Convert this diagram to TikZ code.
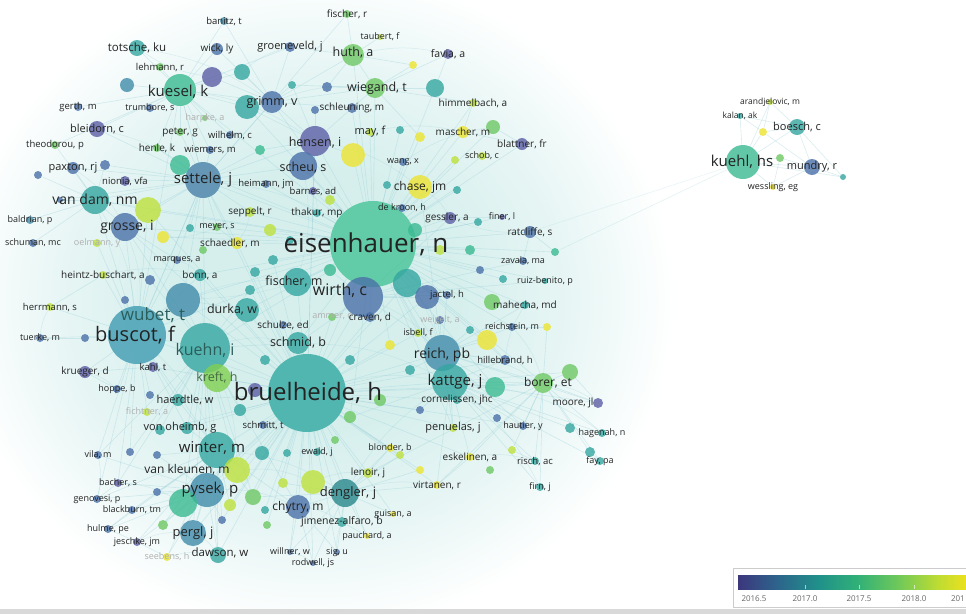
\documentclass[tikz,border=0pt]{standalone}
\usepackage{fontspec}
\setmainfont{Open Sans}
\usetikzlibrary{backgrounds}
\definecolor{cP}{RGB}{92,94,165}
\definecolor{cB}{RGB}{74,112,168}
\definecolor{cB2}{RGB}{72,128,168}
\definecolor{cBT}{RGB}{64,140,170}
\definecolor{cBTb}{RGB}{62,155,178}
\definecolor{cT}{RGB}{52,166,160}
\definecolor{cTb}{RGB}{48,168,160}
\definecolor{cT2}{RGB}{40,135,140}
\definecolor{cTG}{RGB}{58,186,145}
\definecolor{cTGb}{RGB}{70,194,150}
\definecolor{cG}{RGB}{110,200,100}
\definecolor{cGb}{RGB}{128,208,80}
\definecolor{cYG}{RGB}{190,225,60}
\definecolor{cY}{RGB}{236,228,48}
\definecolor{edgec}{RGB}{150,205,215}
\definecolor{hazec}{RGB}{214,239,237}
\definecolor{hazem}{RGB}{232,246,245}
\definecolor{txt}{RGB}{35,35,35}
\definecolor{faint}{RGB}{175,175,175}
\definecolor{v0}{RGB}{60,55,125}
\definecolor{v1}{RGB}{45,100,140}
\definecolor{v2}{RGB}{32,143,138}
\definecolor{v3}{RGB}{48,176,120}
\definecolor{v4}{RGB}{110,200,90}
\definecolor{v5}{RGB}{190,220,50}
\definecolor{v6}{RGB}{235,225,30}
\pgfdeclarehorizontalshading{viridisbar}{100bp}{color(0bp)=(v0); color(25bp)=(v0); color(33.6bp)=(v1); color(42.3bp)=(v2); color(51.1bp)=(v3); color(60bp)=(v4); color(68.9bp)=(v5); color(75bp)=(v6); color(100bp)=(v6)}
\pgfdeclareradialshading{hazeshade}{\pgfpoint{0bp}{0bp}}{color(0bp)=(hazec); color(10bp)=(hazec); color(18bp)=(hazem); color(25bp)=(white); color(50bp)=(white)}
\tikzset{
  vn/.style={circle,inner sep=0pt,draw=none,fill opacity=0.8},
  lab/.style={text=txt,inner sep=0pt},
  fnt/.style={font=\fontsize{#1}{#1}\selectfont},
  dim/.style={text=faint},
  edg/.style={draw=edgec,line width=0.6pt,opacity=0.35},
  edgb/.style={draw=edgec,line width=0.5pt,opacity=0.3,bend left=12},
  legtxt/.style={text=black!60,inner sep=0pt,font=\fontsize{8}{8}\selectfont}
}
\newcommand\mkN[5]{\node[vn,fill=#5,minimum size=#4pt] (#1) at (#2,#3) {};}
\newcommand\mkL[4][]{\node[lab,fnt=#3,#1] (#2L) at (#2) {#4};}
\begin{document}
\begin{tikzpicture}[x=1pt,y=-1pt]
\useasboundingbox (0,0) rectangle (966,614);
% ---------- nodes ----------
\mkN{eis}{373}{244}{86}{cTGb}
\mkN{bru}{307}{393}{78}{cTb}
\mkN{bus}{137}{335}{58}{cBTb}
\mkN{wub}{183}{300}{34}{cBT}
\mkN{kun}{205}{348}{50}{cT}
\mkN{wir}{363}{297}{40}{cB}
\mkN{set}{203}{180}{36}{cB2}
\mkN{kue}{180}{90}{32}{cTG}
\mkN{kuh}{743}{162}{34}{cTG}
\mkN{vdam}{95}{200}{28}{cT}
\mkN{gro}{125}{227}{28}{cB}
\mkN{reich}{442}{353}{36}{cBT}
\mkN{katt}{450}{382}{36}{cT}
\mkN{win}{217}{450}{36}{cT}
\mkN{pys}{207}{490}{34}{cBT}
\mkN{pys2}{183}{503}{28}{cTG}
\mkN{per}{193}{533}{26}{cBT}
\mkN{den}{345}{493}{28}{cT2}
\mkN{hen}{315}{141}{30}{cP}
\mkN{scheu}{303}{166}{28}{cB}
\mkN{grimm}{272}{102}{22}{cB}
\mkN{huth}{353}{55}{22}{cG}
\mkN{wieg}{375}{88}{20}{cG}
\mkN{chase}{420}{187}{24}{cY}
\mkN{mayn}{353}{155}{24}{cY}
\mkN{may}{370}{132}{8}{cYG}
\mkN{mash}{463}{132}{12}{cY}
\mkN{him}{473}{103}{8}{cYG}
\mkN{tot}{137}{48}{16}{cT}
\mkN{wick}{217}{49}{12}{cB}
\mkN{ban}{224}{21}{8}{cBT}
\mkN{groe}{290}{47}{10}{cB}
\mkN{fisr}{347}{14}{8}{cG}
\mkN{taub}{380}{37}{6}{cYG}
\mkN{fav}{448}{54}{10}{cP}
\mkN{leh}{160}{67}{8}{cG}
\mkN{n213}{212}{77}{20}{cP}
\mkN{n242}{242}{72}{16}{cT}
\mkN{n127}{127}{85}{14}{cBT}
\mkN{gerth}{78}{107}{8}{cB}
\mkN{trum}{150}{108}{8}{cB}
\mkN{harp}{205}{118}{6}{cG}
\mkN{blei}{97}{129}{16}{cP}
\mkN{peter}{180}{132}{8}{cG}
\mkN{wilh}{230}{135}{8}{cB}
\mkN{theo}{55}{145}{8}{cG}
\mkN{henle}{157}{148}{8}{cG}
\mkN{wiem}{210}{150}{8}{cB}
\mkN{n247}{247}{107}{24}{cT}
\mkN{schl}{352}{108}{10}{cB}
\mkN{n315}{315}{110}{8}{cB}
\mkN{n435}{435}{88}{18}{cT}
\mkN{n292}{292}{85}{8}{cT}
\mkN{n327}{327}{87}{10}{cB}
\mkN{schleg}{413}{65}{8}{cY}
\mkN{blat}{522}{144}{12}{cP}
\mkN{schob}{482}{156}{8}{cYG}
\mkN{n493}{493}{127}{14}{cG}
\mkN{wang}{403}{162}{8}{cB}
\mkN{n420}{420}{137}{10}{cY}
\mkN{pax}{73}{168}{12}{cB}
\mkN{nion}{125}{181}{10}{cP}
\mkN{n180}{180}{165}{20}{cTG}
\mkN{n105}{105}{165}{10}{cB}
\mkN{n38}{38}{175}{8}{cB}
\mkN{hei}{266}{184}{8}{cB}
\mkN{barn}{313}{191}{8}{cP}
\mkN{n387}{387}{185}{8}{cT}
\mkN{n457}{457}{190}{8}{cT}
\mkN{n148}{148}{210}{26}{cYG}
\mkN{sepp}{250}{212}{10}{cYG}
\mkN{thak}{317}{213}{8}{cT}
\mkN{dekr}{402}{208}{8}{cB}
\mkN{bald}{30}{220}{8}{cBT}
\mkN{gess}{450}{218}{12}{cP}
\mkN{finer}{502}{217}{6}{cP}
\mkN{ratc}{530}{232}{12}{cB}
\mkN{n478}{478}{222}{8}{cT}
\mkN{meyer}{217}{227}{8}{cG}
\mkN{schu}{33}{243}{8}{cB}
\mkN{oelm}{97}{243}{8}{cYG}
\mkN{n163}{163}{237}{12}{cY}
\mkN{n190}{190}{228}{8}{cT}
\mkN{schae}{237}{243}{12}{cY}
\mkN{n203}{203}{250}{8}{cG}
\mkN{marq}{177}{260}{8}{cB}
\mkN{heintz}{103}{275}{8}{cYG}
\mkN{bonn}{200}{275}{12}{cT}
\mkN{zav}{523}{261}{8}{cB}
\mkN{ruiz}{545}{281}{6}{cT}
\mkN{n503}{503}{279}{8}{cT}
\mkN{n555}{555}{252}{8}{cTG}
\mkN{jact}{447}{295}{8}{cB}
\mkN{n407}{407}{283}{28}{cT}
\mkN{n427}{427}{297}{24}{cB}
\mkN{fism}{297}{282}{28}{cT}
\mkN{n273}{273}{260}{10}{cT}
\mkN{n255}{255}{272}{10}{cT}
\mkN{mah}{525}{305}{8}{cT}
\mkN{n492}{492}{302}{16}{cG}
\mkN{herr}{50}{307}{8}{cYG}
\mkN{durka}{247}{310}{24}{cT}
\mkN{schul}{283}{325}{8}{cB}
\mkN{ammer}{332}{317}{8}{cG}
\mkN{craven}{370}{317}{10}{cB}
\mkN{weig}{440}{320}{8}{cB}
\mkN{isb}{418}{333}{8}{cYG}
\mkN{rstein}{512}{327}{8}{cB}
\mkN{n547}{547}{327}{8}{cY}
\mkN{n487}{487}{340}{20}{cY}
\mkN{tuer}{40}{338}{8}{cB}
\mkN{n85}{85}{338}{8}{cB}
\mkN{schm}{298}{343}{22}{cT}
\mkN{hill}{505}{360}{10}{cB}
\mkN{kahl}{153}{367}{10}{cP}
\mkN{krue}{85}{372}{12}{cP}
\mkN{kreft}{217}{378}{28}{cGb}
\mkN{n570}{570}{372}{16}{cG}
\mkN{bor}{543}{383}{20}{cG}
\mkN{n495}{495}{387}{20}{cTG}
\mkN{hoppe}{117}{389}{8}{cB}
\mkN{haer}{178}{400}{12}{cT}
\mkN{corn}{457}{400}{8}{cT}
\mkN{moore}{598}{403}{10}{cP}
\mkN{fich}{147}{412}{8}{cYG}
\mkN{n350}{350}{417}{12}{cG}
\mkN{schmitt}{263}{425}{8}{cB}
\mkN{pen}{453}{428}{8}{cYG}
\mkN{haut}{523}{426}{8}{cB}
\mkN{n497}{497}{418}{8}{cB}
\mkN{hag}{602}{433}{8}{cT}
\mkN{n570b}{570}{428}{10}{cT}
\mkN{vonoh}{187}{428}{12}{cT}
\mkN{ewald}{317}{452}{8}{cT}
\mkN{n287}{287}{453}{8}{cT}
\mkN{n262}{262}{453}{14}{cT}
\mkN{blond}{390}{448}{8}{cY}
\mkN{vila}{98}{455}{8}{cB}
\mkN{n130}{130}{452}{8}{cB}
\mkN{cerv}{157}{455}{8}{cB}
\mkN{esk}{470}{457}{8}{cY}
\mkN{risch}{535}{461}{8}{cT}
\mkN{n512}{512}{450}{8}{cYG}
\mkN{fay}{600}{461}{8}{cT}
\mkN{n590}{590}{452}{10}{cT}
\mkN{vkl}{237}{470}{26}{cYG}
\mkN{len}{368}{473}{10}{cYG}
\mkN{vir}{437}{485}{8}{cY}
\mkN{firn}{540}{487}{8}{cT}
\mkN{n313}{313}{482}{24}{cYG}
\mkN{n283}{283}{483}{10}{cYG}
\mkN{n253}{253}{497}{16}{cG}
\mkN{bach}{118}{483}{8}{cP}
\mkN{n157}{157}{492}{8}{cB}
\mkN{gen}{97}{499}{8}{cB}
\mkN{black}{132}{510}{8}{cB}
\mkN{guis}{393}{514}{6}{cY}
\mkN{chy}{298}{507}{24}{cB}
\mkN{jim}{342}{522}{10}{cT}
\mkN{n222}{222}{520}{8}{cB}
\mkN{n163b}{163}{525}{10}{cG}
\mkN{hulme}{108}{529}{8}{cB}
\mkN{pauch}{367}{536}{6}{cY}
\mkN{jesch}{137}{542}{8}{cP}
\mkN{daw}{218}{555}{16}{cT}
\mkN{seeb}{167}{557}{8}{cY}
\mkN{will}{290}{552}{6}{cB}
\mkN{sig}{337}{552}{6}{cB}
\mkN{rod}{313}{563}{6}{cB}
\mkN{n267}{267}{525}{8}{cG}
% extra unlabeled texture nodes
\mkN{x1}{330}{200}{10}{cYG}
\mkN{x2}{260}{150}{10}{cTG}
\mkN{x3}{400}{130}{8}{cT}
\mkN{x4}{470}{250}{10}{cTG}
\mkN{x5}{480}{270}{8}{cB}
\mkN{x6}{390}{345}{10}{cY}
\mkN{x7}{410}{370}{10}{cT}
\mkN{x8}{380}{400}{12}{cG}
\mkN{x9}{420}{410}{8}{cB}
\mkN{x10}{350}{360}{10}{cT}
\mkN{x11}{255}{390}{14}{cP}
\mkN{x12}{265}{360}{10}{cT}
\mkN{x13}{160}{430}{10}{cT}
\mkN{x14}{240}{410}{12}{cT}
\mkN{x15}{400}{455}{8}{cYG}
\mkN{x16}{420}{470}{8}{cY}
\mkN{x17}{490}{470}{8}{cG}
\mkN{x18}{335}{440}{8}{cG}
\mkN{x19}{270}{230}{12}{cYG}
\mkN{x20}{290}{240}{8}{cT}
\mkN{x21}{250}{290}{10}{cT}
\mkN{x22}{150}{280}{10}{cB}
\mkN{x23}{125}{300}{8}{cB}
\mkN{x24}{60}{200}{6}{cB}
\mkN{x25}{455}{160}{8}{cYG}
\mkN{x26}{440}{250}{10}{cYG}
\mkN{x27}{470}{330}{8}{cT}
\mkN{x28}{230}{505}{12}{cYG}
\mkN{x29}{265}{510}{8}{cT}
\mkN{x30}{415}{230}{14}{cTG}
\mkN{x31}{330}{270}{12}{cTG}
\mkN{x32}{150}{395}{8}{cB}
% right cluster
\mkN{arand}{770}{102}{6}{cYG}
\mkN{kalan}{740}{116}{6}{cT}
\mkN{boesch}{797}{127}{16}{cT}
\mkN{n763}{763}{132}{8}{cY}
\mkN{n780}{780}{158}{8}{cG}
\mkN{mundry}{812}{167}{16}{cB}
\mkN{n843}{843}{177}{6}{cT}
\mkN{wess}{773}{187}{6}{cY}
% ---------- edges ----------
\begin{scope}[on background layer]
\fill[white] (0,0) rectangle (966,614);
\shade[shading=hazeshade] (315,300) ellipse [x radius=360,y radius=330];
\foreach \a in {bru,wir,fism,n407,n427,craven,isb,jact,gess,dekr,chase,n387,thak,barn,scheu,hen,mayn,may,wang,schl,wieg,huth,n435,n457,n478,finer,ratc,zav,ruiz,mah,reich,katt,schm,durka,set,kun,wub,bus,gro,n148,sepp,schae,meyer,n163,n273,n255,hei,bonn,n487,rstein,hill,corn,pen,n350,bor,n495,blat,mash,n493,schob,him,grimm,n247,kue,vdam,n180,n555,n420,x1,x3,x4,x5,x6,x25,x26,x30,x31,x19,x20,n503,n492}
  \draw[edg] (eis) -- (\a);
\foreach \a in {wir,schm,fism,durka,kun,bus,wub,win,vonoh,haer,kreft,pys,pys2,per,vkl,den,chy,jim,n313,n283,n253,ewald,n287,n262,blond,len,schmitt,n350,corn,pen,reich,katt,craven,n407,n427,schul,kahl,n222,daw,n163b,vir,esk,guis,pauch,will,rod,sig,n495,haut,bor,hill,set,gro,n148,schae,bonn,n273,n255,isb,hen,x6,x7,x8,x9,x10,x11,x12,x13,x14,x15,x16,x18,x21,x28,x29,n267,ammer}
  \draw[edg] (bru) -- (\a);
\foreach \a in {wub,kun,tuer,n85,krue,kahl,herr,heintz,hoppe,vila,haer,vonoh,win,gro,vdam,set,n148,bonn,marq,n130,fich,bach,gen,x22,x23,x32,oelm}
  \draw[edg] (bus) -- (\a);
\foreach \a in {wub,win,kreft,haer,vonoh,pys,pys2,vkl,n253,set,gro,durka,schm,bonn,per,daw,chy,n130,vila,bach,x13,x14,x21,x22}
  \draw[edg] (kun) -- (\a);
\foreach \a in {pys,pys2,per,vkl,n253,daw,vonoh,haer,n157,gen,black,hulme,jesch,n222,n163b,seeb,chy,cerv,x28}
  \draw[edg] (win) -- (\a);
\foreach \a in {pys2,per,vkl,daw,bach,gen,black,hulme,jesch,vila,n157,seeb,n222,cerv}
  \draw[edg] (pys) -- (\a);
\foreach \a in {chy,jim,will,rod,sig,len,n313,guis,pauch,n253,n283,blond,x15,x16,vir}
  \draw[edg] (den) -- (\a);
\foreach \a in {wub,kue,n180,pax,nion,vdam,gro,hen,scheu,n148,grimm,sepp,meyer,n190,hei,marq,blei,n105,schae,wiem,peter,henle,x2,x24}
  \draw[edg] (set) -- (\a);
\foreach \a in {tot,leh,wick,n213,n242,n127,trum,blei,gerth,peter,henle,n247,grimm,ban,groe,theo,wilh,harp,wiem}
  \draw[edg] (kue) -- (\a);
\foreach \a in {huth,wieg,groe,wick,ban,n213,n242,n247,fisr,n292,schl,hen}
  \draw[edg] (grimm) -- (\a);
\foreach \a in {fisr,taub,wieg,groe,n327,schleg}
  \draw[edg] (huth) -- (\a);
\foreach \a in {fav,n435,n292,n327,schl,n420,schleg,him}
  \draw[edg] (wieg) -- (\a);
\foreach \a in {scheu,schl,n315,mayn,n247,n292,x2,barn}
  \draw[edg] (hen) -- (\a);
\foreach \a in {katt,corn,pen,hill,bor,n495,n487,mah,rstein,jact,n427,isb,haut,moore,x7,x27,weig}
  \draw[edg] (reich) -- (\a);
\foreach \a in {corn,pen,bor,n495,hill,haut,moore,hag,n570,risch,fay,firn,esk,vir,n350,n497,x9,n570b}
  \draw[edg] (katt) -- (\a);
\foreach \a in {n570,haut,hag,moore,risch,fay,firn,esk,vir,len,n495,n512,n590,n547}
  \draw[edg] (bor) -- (\a);
\foreach \a in {fism,craven,n407,n427,jact,isb,schm,gess,ruiz,zav,x31,ammer}
  \draw[edg] (wir) -- (\a);
\foreach \a in {pax,n105,bald,schu,gro,n148,n38,x24,theo}
  \draw[edg] (vdam) -- (\a);
\foreach \a/\b in {kue/bus,hen/bru,set/bus,kue/set,grimm/set,chase/reich,n555/ratc,ratc/zav,gess/finer,mash/blat,n493/blat,him/mash,n435/fav,mah/n492,rstein/n547,hill/n487,n570/moore,hag/n570b,fay/n590,risch/n512,bach/gen,black/hulme,hulme/jesch,seeb/jesch,chy/will,chy/rod,chy/sig,jim/pauch,len/blond,vir/esk,tuer/n85,krue/kahl,hoppe/krue,herr/heintz,wub/durka,gro/marq,schae/meyer}
  \draw[edg] (\a) -- (\b);
% curved cross links
\foreach \a/\b in {kue/hen,tot/grimm,blei/set,pax/gro,gro/bus,wub/fism,kun/schm,win/den,pys/chy,per/daw,vkl/n313,den/katt,reich/bor,katt/firn,eis/reich,eis/wub,set/eis,hen/chase,scheu/fism,grimm/wieg,huth/fav,n213/tot,n242/groe,vdam/bus,bus/win,kun/vkl,bru/katt,wir/reich,schm/katt,chy/jim,n313/len,den/vir,esk/risch,bor/moore,n495/hag,hill/mah,rstein/bor,ratc/gess,chase/gess,may/mash,wang/n493,barn/thak,sepp/schae,meyer/n163,marq/bonn,heintz/bonn,krue/hoppe,tuer/herr,vila/gen,bach/pys2,jesch/per,seeb/daw,will/rod,sig/jim}
  \draw[edgb] (\a) to (\b);
\foreach \a in {boesch,mundry,kalan,arand,wess,n763,n780,n843}
  \draw[edg] (kuh) -- (\a);
\foreach \a/\b in {boesch/mundry,boesch/n843,mundry/n843,kalan/n763,boesch/arand,boesch/n763,mundry/wess,n780/mundry,kalan/boesch,arand/n763,wess/n780,n763/mundry}
  \draw[edg] (\a) -- (\b);
\draw[edg,opacity=0.25] (n555) -- (kuh);
\draw[edg,opacity=0.2] (ratc) -- (kuh);
\end{scope}
% ---------- labels ----------
\mkL[xshift=-7pt]{eis}{26}{eisenhauer, n}
\mkL[xshift=1pt]{bru}{24}{bruelheide, h}
\mkL[xshift=-2pt]{bus}{20}{buscot, f}
\mkL[xshift=-30pt,yshift=-15pt,text=txt!55!cT]{wub}{17}{wubet, t}
\mkL[yshift=-2pt,text=txt!55!cT]{kun}{16}{kuehn, i}
\mkL[xshift=-23pt,yshift=7pt]{wir}{16}{wirth, c}
\mkL{set}{15}{settele, j}
\mkL[xshift=-2pt,yshift=-2pt]{kue}{15}{kuesel, k}
\mkL[xshift=-1pt]{kuh}{15}{kuehl, hs}
\mkL{vdam}{14}{van dam, nm}
\mkL[xshift=2pt]{gro}{14}{grosse, i}
\mkL[yshift=-2pt]{reich}{14}{reich, pb}
\mkL[xshift=5pt]{katt}{15}{kattge, j}
\mkL[xshift=-5pt,yshift=2pt]{win}{15}{winter, m}
\mkL[xshift=3pt]{pys}{15}{pysek, p}
\mkL{per}{13}{pergl, j}
\mkL[xshift=3pt]{den}{13}{dengler, j}
\mkL[yshift=-2pt]{hen}{12.5}{hensen, i}
\mkL[yshift=-2pt]{scheu}{12.5}{scheu, s}
\mkL{grimm}{12.5}{grimm, v}
\mkL[yshift=2pt]{huth}{12.5}{huth, a}
\mkL[xshift=2pt]{wieg}{12.5}{wiegand, t}
\mkL{chase}{12}{chase, jm}
\mkL{may}{11}{may, f}
\mkL{mash}{10}{mascher, m}
\mkL{him}{10}{himmelbach, a}
\mkL{tot}{11.5}{totsche, ku}
\mkL{wick}{10}{wick, ly}
\mkL{ban}{9.5}{banitz, t}
\mkL{groe}{11}{groeneveld, j}
\mkL{fisr}{10}{fischer, r}
\mkL{taub}{9}{taubert, f}
\mkL{fav}{10.5}{favia, a}
\mkL{leh}{9.5}{lehmann, r}
\mkL{gerth}{9.5}{gerth, m}
\mkL{trum}{9}{trumbore, s}
\mkL[dim]{harp}{9}{harpke, a}
\mkL{blei}{11}{bleidorn, c}
\mkL{peter}{10}{peter, g}
\mkL{wilh}{9.5}{wilhelm, c}
\mkL{theo}{9.5}{theodorou, p}
\mkL{henle}{10}{henle, k}
\mkL{wiem}{9.5}{wiemers, m}
\mkL{schl}{10}{schleuning, m}
\mkL{blat}{10}{blattner, fr}
\mkL{schob}{9}{schob, c}
\mkL{wang}{9}{wang, x}
\mkL{pax}{11}{paxton, rj}
\mkL{nion}{9.5}{nionia, vfa}
\mkL{hei}{9.5}{heimann, jm}
\mkL{barn}{9.5}{barnes, ad}
\mkL{sepp}{10}{seppelt, r}
\mkL{thak}{10}{thakur, mp}
\mkL{dekr}{9}{de kroon, h}
\mkL{bald}{9}{baldrian, p}
\mkL[xshift=-3pt]{gess}{10}{gessler, a}
\mkL{finer}{9}{finer, l}
\mkL{ratc}{10}{ratcliffe, s}
\mkL{meyer}{9}{meyer, s}
\mkL{schu}{9}{schuman, mc}
\mkL[dim]{oelm}{9}{oelmann, y}
\mkL[xshift=-7pt]{schae}{10}{schaedler, m}
\mkL{marq}{9}{marques, a}
\mkL{heintz}{10}{heintz-buschart, a}
\mkL{bonn}{10}{bonn, a}
\mkL{zav}{9}{zavala, ma}
\mkL{ruiz}{9}{ruiz-benito, p}
\mkL{jact}{9.5}{jactel, h}
\mkL[xshift=-3pt]{fism}{12.5}{fischer, m}
\mkL{mah}{10}{mahecha, md}
\mkL{herr}{9.5}{herrmann, s}
\mkL[xshift=-15pt]{durka}{12.5}{durka, w}
\mkL{schul}{10}{schulze, ed}
\mkL[dim]{ammer}{9}{ammer, c}
\mkL{craven}{10}{craven, d}
\mkL[dim]{weig}{9}{weigelt, a}
\mkL{isb}{9}{isbell, f}
\mkL{rstein}{9}{reichstein, m}
\mkL{tuer}{9}{tuerke, m}
\mkL{schm}{12.5}{schmid, b}
\mkL{hill}{9.5}{hillebrand, h}
\mkL{kahl}{9.5}{kahl, t}
\mkL{krue}{10}{krueger, d}
\mkL[text=txt!55!cG]{kreft}{12.5}{kreft, h}
\mkL[xshift=5pt]{bor}{12}{borer, et}
\mkL{hoppe}{9}{hoppe, b}
\mkL[xshift=7pt]{haer}{11}{haerdtle, w}
\mkL{corn}{10}{cornelissen, jhc}
\mkL[xshift=-25pt]{moore}{10}{moore, jl}
\mkL[dim]{fich}{9}{fichtner, a}
\mkL{schmitt}{9.5}{schmitt, t}
\mkL{pen}{11}{penuelas, j}
\mkL{haut}{9}{hautier, y}
\mkL{hag}{9}{hagenah, n}
\mkL[xshift=-7pt]{vonoh}{11}{von oheimb, g}
\mkL{ewald}{9}{ewald, j}
\mkL{blond}{9}{blonder, b}
\mkL{vila}{9}{vila, m}
\mkL{esk}{10}{eskelinen, a}
\mkL{risch}{9.5}{risch, ac}
\mkL{fay}{9}{fay, pa}
\mkL[xshift=-50pt]{vkl}{12}{van kleunen, m}
\mkL{len}{10}{lenoir, j}
\mkL{vir}{10}{virtanen, r}
\mkL{firn}{9}{firn, j}
\mkL{bach}{9}{bacher, s}
\mkL{gen}{9}{genovesi, p}
\mkL{black}{9}{blackburn, tm}
\mkL{guis}{9}{guisan, a}
\mkL{chy}{12}{chytry, m}
\mkL{jim}{10.5}{jimenez-alfaro, b}
\mkL{hulme}{9}{hulme, pe}
\mkL{pauch}{9}{pauchard, a}
\mkL{jesch}{9}{jeschke, jm}
\mkL[xshift=2pt,yshift=2pt]{daw}{11.5}{dawson, w}
\mkL[dim]{seeb}{9}{seebens, h}
\mkL{will}{9}{willner, w}
\mkL{sig}{9}{sig, u}
\mkL{rod}{9}{rodwell, js}
\mkL{arand}{8.5}{arandjelovic, m}
\mkL{kalan}{8.5}{kalan, ak}
\mkL{boesch}{11}{boesch, c}
\mkL{mundry}{11}{mundry, r}
\mkL{wess}{9}{wessling, eg}
% ---------- legend ----------
\fill[black!15] (0,609) rectangle (966,614);
\draw[black!20,fill=white] (733,568) rectangle (970,607);
\shade[shading=viridisbar] (738,575) rectangle (966,589);
\foreach \x in {805,859,914} \draw[white,opacity=0.6,line width=0.5pt] (\x,585) -- (\x,589);
\node[legtxt] (l1) at (754,599) {2016.5};
\node[legtxt] (l2) at (805,599) {2017.0};
\node[legtxt] (l3) at (859,599) {2017.5};
\node[legtxt] (l4) at (914,599) {2018.0};
\node[legtxt,anchor=east] (l5) at (965,599) {201};
\end{tikzpicture}
\end{document}
